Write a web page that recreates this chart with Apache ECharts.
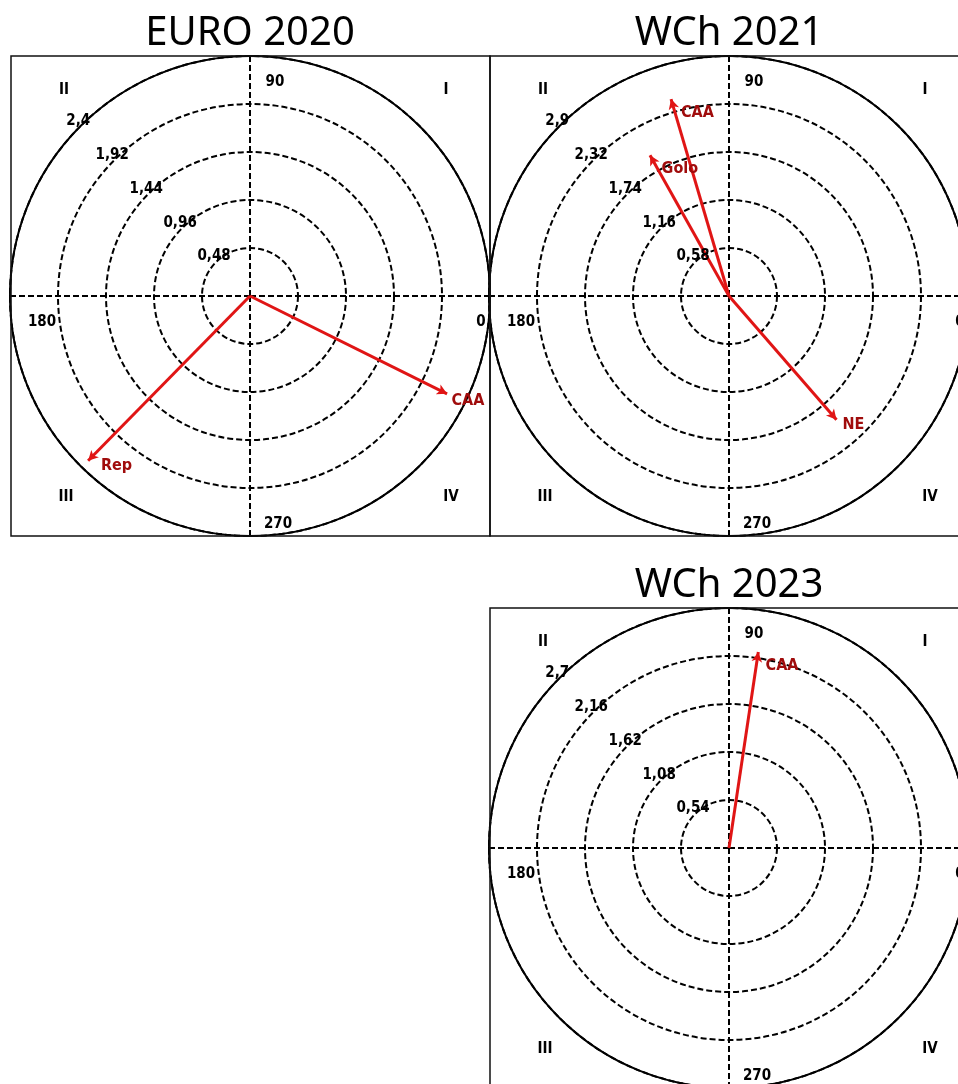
<!DOCTYPE html>
<html>
<head>
<meta charset="utf-8">
<script src="https://cdn.jsdelivr.net/npm/echarts@6/dist/echarts.min.js"></script>
<style>
  html, body { margin: 0; padding: 0; background: #fff; }
  #main { width: 958px; height: 1084px; }
</style>
</head>
<body>
<div id="main"></div>
<script>
// titles and ring ticks of the three panels
var titles = ['EURO 2020', 'WCh 2021', 'WCh 2023'];
var ringTicks = [
  [0.48, 0.96, 1.44, 1.92, 2.4],
  [0.58, 1.16, 1.74, 2.32, 2.9],
  [0.54, 1.08, 1.62, 2.16, 2.7]
];
var angleLabels = ['0', '90', '180', '270'];
var quadrantLabels = ['I', 'II', 'III', 'IV'];

// vectors: length and angle (degrees)
var euroNames = ['CAA', 'Rep'];
var euroLength = [2.2, 2.31];
var euroAngle = [333.6, 225.5];

var wch21Names = ['CAA', 'Golo', 'NE'];
var wch21Length = [2.48, 1.95, 1.98];
var wch21Angle = [106.4, 119.3, 311.0];

var wch23Names = ['CAA'];
var wch23Length = [2.23];
var wch23Angle = [81.5];

var vectors = [
  { names: euroNames, len: euroLength, ang: euroAngle },
  { names: wch21Names, len: wch21Length, ang: wch21Angle },
  { names: wch23Names, len: wch23Length, ang: wch23Angle }
];

// layout
var centers = [[250, 296], [729, 296], [729, 848]];
var R = 240;
var narrow = '"Liberation Sans Narrow", "DejaVu Sans Condensed", "Liberation Sans", sans-serif';
var angleOffsets = { '0': [231, 26], '90': [25, -214], '180': [-208, 26], '270': [28, 228] };
var quadOffsets = { 'I': [196, -206], 'II': [-186, -206], 'III': [-184, 201], 'IV': [201, 201] };

var myChart = echarts.init(document.getElementById('main'));

var polar = [], angleAxis = [], radiusAxis = [], series = [], title = [], graphic = [];

centers.forEach(function (c, p) {
  var ticks = ringTicks[p];
  polar.push({ center: c, radius: R });
  angleAxis.push({
    polarIndex: p, type: 'value', min: 0, max: 360, interval: 90,
    startAngle: 0, clockwise: false,
    axisLine: { lineStyle: { color: '#000', width: 2 } },
    axisTick: { show: false },
    axisLabel: { show: false },
    splitLine: { lineStyle: { color: '#000', width: 2, type: [6, 3] } }
  });
  radiusAxis.push({
    polarIndex: p, type: 'value', min: 0, max: ticks[ticks.length - 1], interval: ticks[0],
    axisLine: { show: false },
    axisTick: { show: false },
    axisLabel: { show: false },
    splitLine: { lineStyle: { color: '#000', width: 2, type: [6, 3] } }
  });

  title.push({
    text: titles[p], left: c[0], top: c[1] - R - 42, textAlign: 'center', padding: 0,
    textStyle: { fontFamily: 'Noto Sans', fontSize: 40, fontWeight: 'normal', color: '#000' }
  });

  // panel frame
  graphic.push({
    type: 'rect', z: 100,
    shape: { x: c[0] - R + 1, y: c[1] - R, width: 2 * R - 1, height: 2 * R },
    style: { fill: null, stroke: '#111', lineWidth: 1.5 }
  });
  angleLabels.forEach(function (t) {
    var o = angleOffsets[t];
    graphic.push({
      type: 'text', z: 100, x: c[0] + o[0], y: c[1] + o[1],
      style: { text: t, fill: '#000', font: 'bold 15px ' + narrow, align: 'center', verticalAlign: 'middle' }
    });
  });
  quadrantLabels.forEach(function (t) {
    var o = quadOffsets[t];
    graphic.push({
      type: 'text', z: 100, x: c[0] + o[0], y: c[1] + o[1],
      style: { text: t, fill: '#000', font: 'bold 15px ' + narrow, align: 'center', verticalAlign: 'middle' }
    });
  });

  // ring labels along the 135 degree direction
  series.push({
    type: 'scatter', coordinateSystem: 'polar', polarIndex: p, z: 5,
    symbolSize: 0, silent: true,
    itemStyle: { opacity: 1 },
    data: ticks.map(function (v) { return [v, 135]; }),
    label: {
      show: true, position: 'top', distance: 0, offset: [-2, 2],
      color: '#000', opacity: 1, textBorderWidth: 0,
      fontFamily: narrow, fontWeight: 'bold', fontSize: 15,
      formatter: function (d) { return String(d.value[0]).replace('.', ','); }
    }
  });

  // vectors
  var v = vectors[p];
  v.names.forEach(function (name, i) {
    var a = v.ang[i];
    series.push({
      type: 'line', coordinateSystem: 'polar', polarIndex: p, z: 4,
      lineStyle: { color: '#e01515', width: 3 },
      itemStyle: { color: '#e01515' },
      data: [
        { value: [0, a], symbol: 'none' },
        {
          value: [v.len[i], a], symbol: 'arrow', symbolSize: [8, 10], symbolRotate: a - 90,
          label: {
            show: true, position: 'right', distance: 2, offset: [0, 9],
            formatter: name, color: '#a00c0c', fontFamily: narrow, fontWeight: 'bold', fontSize: 16
          }
        }
      ]
    });
  });
});

var option = {
  animation: false,
  backgroundColor: '#fff',
  title: title,
  polar: polar,
  angleAxis: angleAxis,
  radiusAxis: radiusAxis,
  graphic: graphic,
  series: series
};

myChart.setOption(option);
</script>
</body>
</html>
